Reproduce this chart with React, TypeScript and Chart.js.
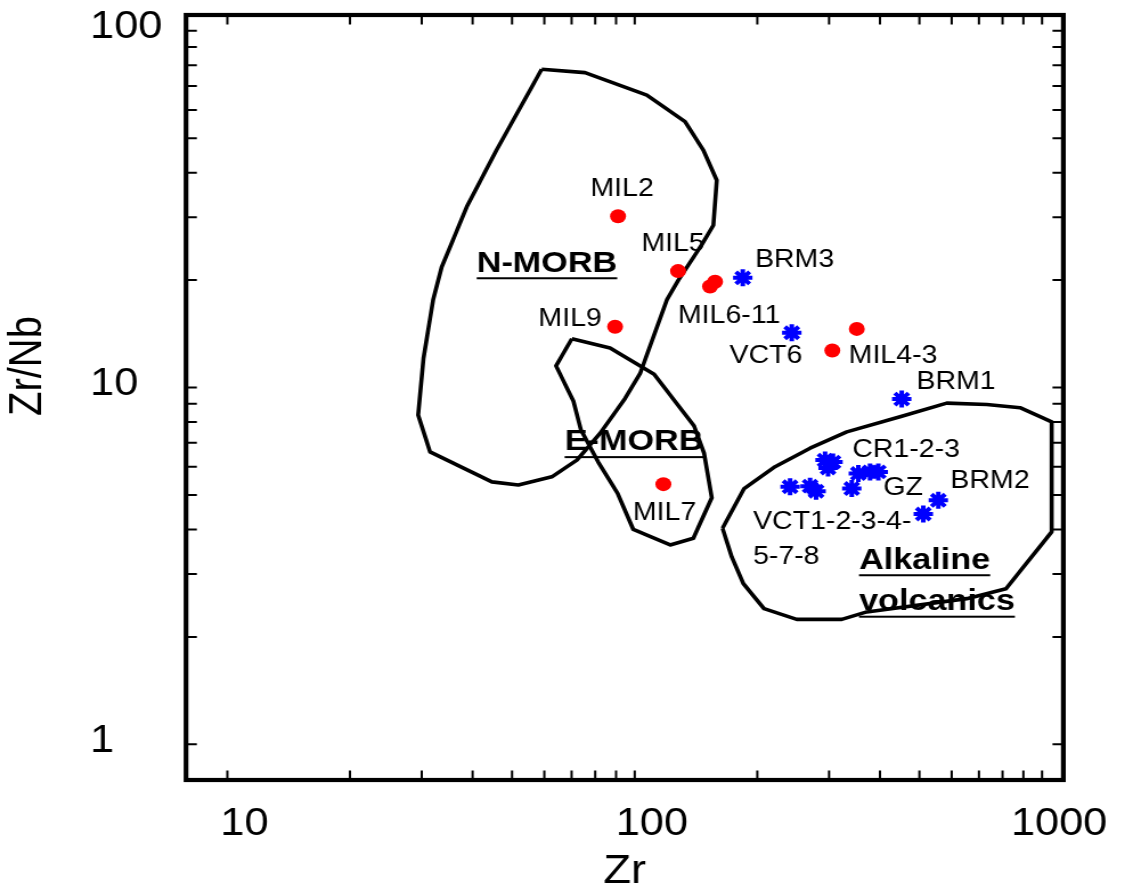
import { useEffect, useRef } from 'react';
import { Chart, registerables } from 'chart.js';

Chart.register(...registerables);

const FONT = "'Liberation Sans', Arial, Helvetica, sans-serif";

// ---- Samples (Zr ppm vs Zr/Nb) ----
const milNames = ['MIL2', 'MIL5', 'MIL6', 'MIL11', 'MIL9', 'MIL4', 'MIL3', 'MIL7'];
const milZr = [91.0, 127.8, 153.1, 157.5, 89.5, 350.9, 305.6, 117.6];
const milZrNb = [30.2, 21.2, 19.2, 19.8, 14.8, 14.6, 12.7, 5.36];

const volcNames = ['BRM3', 'VCT6', 'BRM1', 'VCT1', 'VCT2', 'VCT3', 'CR1', 'CR2', 'CR3', 'GZ1', 'GZ2', 'GZ3', 'VCT4', 'BRM2a', 'BRM2b'];
const volcZr = [184.2, 243.0, 452.4, 240.7, 269.5, 278.8, 293.3, 306.8, 298.3, 354.0, 378.2, 396.3, 341.1, 556.4, 511.1];
const volcZrNb = [20.3, 14.24, 9.28, 5.27, 5.29, 5.12, 6.26, 6.18, 5.95, 5.74, 5.8, 5.8, 5.21, 4.83, 4.42];

// ---- Discrimination fields (closed outlines) ----
const nmorbZr = [59.1, 75.5, 107.1, 132.9, 147.4, 159.0, 156.0, 146.0, 128.0, 119.9, 103.1, 94.7, 82.2, 72.1, 62.6, 51.8, 44.6, 31.45, 29.4, 30.3, 32.0, 33.6, 38.7, 45.8, 59.1];
const nmorbZrNb = [78.0, 76.3, 66.0, 55.6, 46.3, 38.1, 28.5, 25.1, 20.0, 17.6, 10.95, 9.32, 7.44, 6.26, 5.62, 5.33, 5.44, 6.6, 8.37, 12.07, 17.6, 21.8, 32.1, 46.3, 78.0];

const emorbZr = [70.1, 87.0, 111.6, 139.9, 148.0, 154.6, 139.3, 122.2, 99.2, 90.8, 81.3, 73.8, 70.7, 64.1, 70.1];
const emorbZrNb = [13.7, 12.9, 10.9, 7.8, 6.55, 4.91, 3.78, 3.62, 4.0, 5.05, 6.19, 7.6, 9.17, 11.5, 13.7];

const alkZr = [164.3, 185.6, 221.1, 269.5, 331.6, 448.1, 583.6, 731.6, 883.0, 1056, 1056, 815.6, 653.4, 371.3, 322.3, 249.9, 207.7, 184.8, 173.1, 164.3];
const alkZrNb = [4.03, 5.21, 6.0, 6.76, 7.51, 8.28, 9.04, 8.96, 8.78, 8.01, 3.94, 2.73, 2.56, 2.35, 2.24, 2.24, 2.4, 2.82, 3.35, 4.03];

// ---- Text annotations (anchored in data units) ----
const pointLabelTexts = ['MIL2', 'MIL5', 'MIL9', 'MIL6-11', 'MIL4-3', 'MIL7', 'BRM3', 'VCT6', 'BRM1', 'CR1-2-3', 'GZ', 'BRM2'];
const pointLabelZr = [93.1, 124.2, 69.4, 170.5, 430.7, 118.4, 246.9, 210.1, 615.0, 463.6, 455.9, 745.3];
const pointLabelZrNb = [36.0, 25.2, 15.55, 15.9, 12.25, 4.45, 22.8, 12.25, 10.35, 6.67, 5.22, 5.47];

const groupLabelTexts = ['VCT1-2-3-4-', '5-7-8'];
const groupLabelZr = [195.2, 195.2];
const groupLabelZrNb = [4.2, 3.35];

const fieldLabelTexts = ['N-MORB', 'E-MORB', 'Alkaline', 'volcanics'];
const fieldLabelZr = [60.9, 99.6, 355.4, 355.4];
const fieldLabelZrNb = [22.3, 7.03, 3.28, 2.51];
const fieldLabelCentered = [true, true, false, false];

// ---- Axes ----
const xTickValues = [10, 20, 30, 40, 50, 60, 70, 80, 90, 100, 200, 300, 400, 500, 600, 700, 800, 900, 1000];
const xTickLabels = ['10', '100', '1000'];
const yTickValues = [1, 2, 3, 4, 5, 6, 7, 8, 9, 10, 20, 30, 40, 50, 60, 70, 80, 90, 100];
const yTickLabels = ['1', '10', '100'];
const xRange = [7.916, 1128];
const yRange = [0.7942, 110.7];
const xTitle = 'Zr';
const yTitle = 'Zr/Nb';

const pts = (xs: number[], ys: number[]) => xs.map((x, i) => ({ x, y: ys[i] }));

const decorPlugin = {
  id: 'decor',
  beforeDraw(chart: any) {
    const { ctx, width, height } = chart;
    ctx.save();
    ctx.fillStyle = '#ffffff';
    ctx.fillRect(0, 0, width, height);
    ctx.restore();
  },
  afterDatasetsDraw(chart: any) {
    const { ctx } = chart;
    const xs = chart.scales.x;
    const ys = chart.scales.y;
    ctx.save();
    ctx.fillStyle = '#000000';
    ctx.textBaseline = 'middle';
    ctx.font = `25px ${FONT}`;
    ctx.textAlign = 'center';
    pointLabelTexts.forEach((t, i) => {
      ctx.fillText(t, xs.getPixelForValue(pointLabelZr[i]), ys.getPixelForValue(pointLabelZrNb[i]));
    });
    ctx.textAlign = 'left';
    groupLabelTexts.forEach((t, i) => {
      ctx.fillText(t, xs.getPixelForValue(groupLabelZr[i]), ys.getPixelForValue(groupLabelZrNb[i]));
    });
    ctx.font = `bold 30px ${FONT}`;
    fieldLabelTexts.forEach((t, i) => {
      const px = xs.getPixelForValue(fieldLabelZr[i]);
      const py = ys.getPixelForValue(fieldLabelZrNb[i]);
      const centered = fieldLabelCentered[i];
      ctx.textAlign = centered ? 'center' : 'left';
      ctx.fillText(t, px, py);
      const w = ctx.measureText(t).width;
      const x0 = centered ? px - w / 2 : px;
      ctx.fillRect(x0, py + 14, w, 2);
    });
    ctx.restore();
  },
  afterDraw(chart: any) {
    const { ctx, chartArea } = chart;
    const { left, right, top, bottom } = chartArea;
    const xs = chart.scales.x;
    const ys = chart.scales.y;
    ctx.save();
    ctx.strokeStyle = '#000000';
    // tick marks (inward, mirrored on all sides)
    ctx.lineWidth = 2;
    ctx.beginPath();
    xs.ticks.forEach((t: any) => {
      const px = xs.getPixelForValue(t.value);
      ctx.moveTo(px, bottom);
      ctx.lineTo(px, bottom - 9.5);
      ctx.moveTo(px, top);
      ctx.lineTo(px, top + 9.5);
    });
    ys.ticks.forEach((t: any) => {
      const py = ys.getPixelForValue(t.value);
      ctx.moveTo(left, py);
      ctx.lineTo(left + 9.5, py);
      ctx.moveTo(right, py);
      ctx.lineTo(right - 9.5, py);
    });
    ctx.stroke();
    // frame
    ctx.lineWidth = 4.2;
    ctx.strokeRect(left, top, right - left, bottom - top);
    // y-axis title
    ctx.fillStyle = '#000000';
    ctx.font = `40px ${FONT}`;
    ctx.textAlign = 'center';
    ctx.textBaseline = 'middle';
    ctx.translate(24.6, 366);
    ctx.rotate(-Math.PI / 2);
    ctx.fillText(yTitle, 0, 0);
    ctx.restore();
  },
};

export default function App() {
  const canvasRef = useRef<HTMLCanvasElement | null>(null);

  useEffect(() => {
    const canvas = canvasRef.current;
    if (!canvas) return;
    const outline = (label: string, xs: number[], ys: number[]) => ({
      label,
      data: pts(xs, ys),
      showLine: true,
      pointRadius: 0,
      borderColor: '#000000',
      borderWidth: 3.6,
      borderJoinStyle: 'round',
      fill: false,
      tension: 0,
      order: 1,
    });
    const chart = new Chart(canvas, {
      type: 'scatter',
      data: {
        datasets: [
          {
            label: 'MIL',
            data: pts(milZr, milZrNb),
            pointStyle: 'circle',
            pointRadius: 7,
            pointBackgroundColor: '#ff0000',
            pointBorderColor: '#ff0000',
            pointBorderWidth: 0,
            order: 0,
          },
          {
            label: 'Volcanics',
            data: pts(volcZr, volcZrNb),
            pointStyle: 'star',
            pointRadius: 8.5,
            pointBorderColor: '#0000ff',
            pointBackgroundColor: '#0000ff',
            pointBorderWidth: 4,
            order: 0,
          },
          outline('N-MORB', nmorbZr, nmorbZrNb),
          outline('E-MORB', emorbZr, emorbZrNb),
          outline('Alkaline volcanics', alkZr, alkZrNb),
        ],
      },
      options: {
        responsive: false,
        animation: false,
        devicePixelRatio: 1,
        layout: { padding: { left: 79, right: 54.1, top: 15, bottom: 0 } },
        plugins: {
          legend: { display: false },
          tooltip: { enabled: false },
          title: { display: false },
        },
        events: [],
        scales: {
          x: {
            type: 'logarithmic',
            position: 'bottom',
            min: xRange[0],
            max: xRange[1],
            bounds: 'data',
            grid: { display: false },
            border: { display: false },
            afterBuildTicks: (scale: any) => {
              scale.ticks = xTickValues.map((v) => ({ value: v }));
            },
            afterFit: (scale: any) => {
              scale.height = 108;
              scale.paddingLeft = 0;
              scale.paddingRight = 0;
            },
            ticks: {
              autoSkip: false,
              maxRotation: 0,
              minRotation: 0,
              padding: 14,
              labelOffset: 15,
              color: '#000000',
              font: { family: FONT, size: 38 },
              callback: (v: any) => (xTickLabels.includes(String(v)) ? String(v) : ''),
            },
            title: {
              display: true,
              text: xTitle,
              color: '#000000',
              font: { family: FONT, size: 40, lineHeight: 0.8 },
              padding: 0,
            },
          },
          y: {
            type: 'logarithmic',
            position: 'left',
            min: yRange[0],
            max: yRange[1],
            bounds: 'data',
            grid: { display: false },
            border: { display: false },
            afterBuildTicks: (scale: any) => {
              scale.ticks = yTickValues.map((v) => ({ value: v }));
            },
            afterFit: (scale: any) => {
              scale.width = 84.2;
              scale.paddingTop = 0;
              scale.paddingBottom = 0;
            },
            ticks: {
              autoSkip: false,
              padding: 20.8,
              crossAlign: 'far',
              labelOffset: -3,
              color: '#000000',
              font: { family: FONT, size: 38 },
              callback: (v: any) => (yTickLabels.includes(String(v)) ? String(v) : ''),
            },
          },
        },
      } as any,
      plugins: [decorPlugin],
    });
    return () => chart.destroy();
  }, []);

  return (
    <div style={{ position: 'absolute', left: 0, top: 0, width: 1125, height: 888, background: '#fff' }}>
      <canvas
        ref={canvasRef}
        width={987}
        height={888}
        style={{ width: '1125px', height: '888px', display: 'block' }}
      />
    </div>
  );
}
